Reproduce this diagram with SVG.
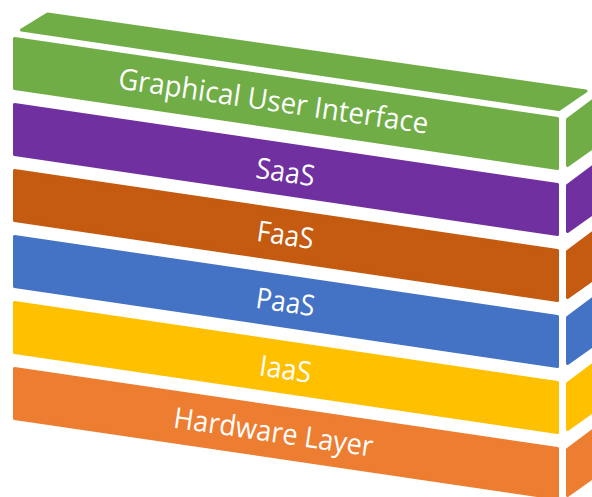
<svg xmlns="http://www.w3.org/2000/svg" width="592" height="497" viewBox="0 0 592 497">
<style>
.lbl{font-family:"Open Sans","Noto Sans","Liberation Sans",sans-serif;font-size:29px;fill:#ffffff;text-anchor:middle}
.f{stroke-width:3;stroke-linejoin:round}
.green{fill:#70AD47;stroke:#70AD47}
.purple{fill:#7030A0;stroke:#7030A0}
.rust{fill:#C55A11;stroke:#C55A11}
.blue{fill:#4472C4;stroke:#4472C4}
.yellow{fill:#FFC000;stroke:#FFC000}
.orange{fill:#ED7D31;stroke:#ED7D31}
</style>
<rect width="592" height="497" fill="#ffffff"/>
<g id="gui">
<polygon class="f green" points="21.5,30 559,109.5 586,91 47.5,14"/>
<polygon class="f green" points="14.5,38.5 557.5,118.5 557.5,168.5 14.5,88.5"/>
<polygon class="f green" points="567.5,119.5 600,95 600,142.5 567.5,165.5"/>
<text class="lbl" x="272" y="111" textLength="313" lengthAdjust="spacingAndGlyphs" transform="rotate(8.36 272 111)">Graphical User Interface</text>
</g>
<g id="saas">
<polygon class="f purple" points="14.5,104.5 557.5,184.5 557.5,234.5 14.5,154.5"/>
<polygon class="f purple" points="567.5,185.5 600,161 600,208.5 567.5,231.5"/>
<text class="lbl" x="284" y="182" textLength="59" lengthAdjust="spacingAndGlyphs" transform="rotate(8.36 284 182)">SaaS</text>
</g>
<g id="faas">
<polygon class="f rust" points="14.5,170.5 557.5,250.5 557.5,300.5 14.5,220.5"/>
<polygon class="f rust" points="567.5,251.5 600,227 600,274.5 567.5,297.5"/>
<text class="lbl" x="284" y="245" textLength="57" lengthAdjust="spacingAndGlyphs" transform="rotate(8.36 284 245)">FaaS</text>
</g>
<g id="paas">
<polygon class="f blue" points="14.5,236.5 557.5,316.5 557.5,366.5 14.5,286.5"/>
<polygon class="f blue" points="567.5,317.5 600,293 600,340.5 567.5,363.5"/>
<text class="lbl" x="284" y="312" textLength="59" lengthAdjust="spacingAndGlyphs" transform="rotate(8.36 284 312)">PaaS</text>
</g>
<g id="iaas">
<polygon class="f yellow" points="14.5,302.5 557.5,382.5 557.5,432.5 14.5,352.5"/>
<polygon class="f yellow" points="567.5,383.5 600,359 600,406.5 567.5,429.5"/>
<text class="lbl" x="284" y="379" textLength="52" lengthAdjust="spacingAndGlyphs" transform="rotate(8.36 284 379)">IaaS</text>
</g>
<g id="hardware">
<polygon class="f orange" points="14.5,368.5 557.5,448.5 557.5,498.5 14.5,418.5"/>
<polygon class="f orange" points="567.5,449.5 600,425 600,472.5 567.5,495.5"/>
<text class="lbl" x="272" y="442" textLength="201" lengthAdjust="spacingAndGlyphs" transform="rotate(8.36 272 442)">Hardware Layer</text>
</g>
</svg>
